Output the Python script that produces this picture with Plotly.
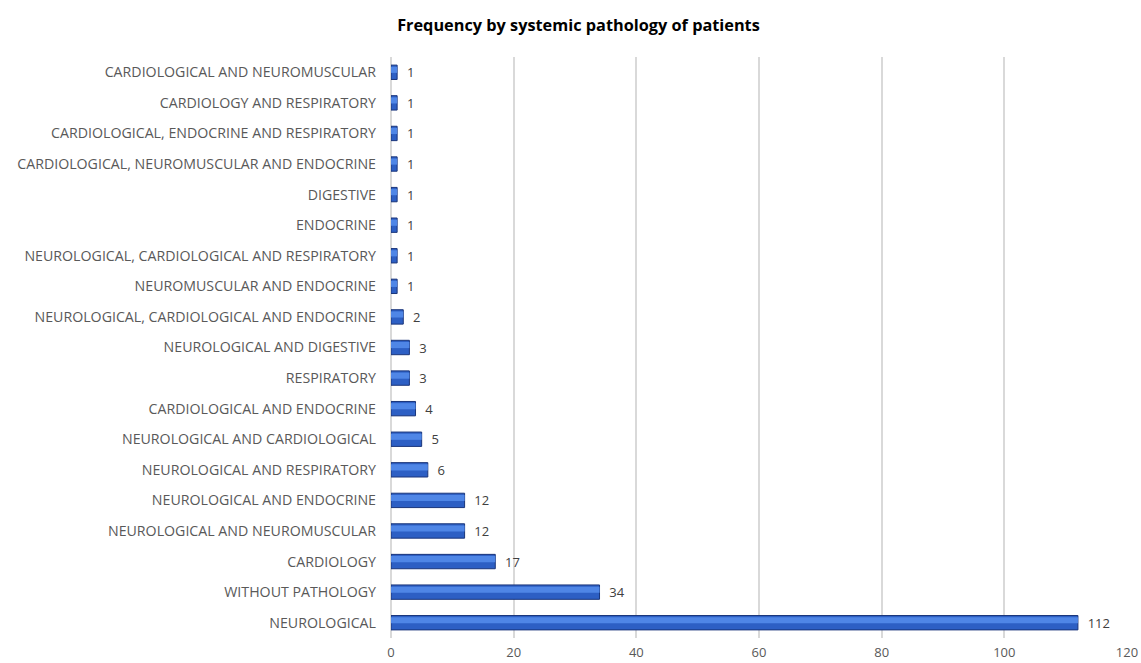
import plotly.graph_objects as go

categories = [
    "NEUROLOGICAL",
    "WITHOUT PATHOLOGY",
    "CARDIOLOGY",
    "NEUROLOGICAL AND NEUROMUSCULAR",
    "NEUROLOGICAL AND ENDOCRINE",
    "NEUROLOGICAL AND RESPIRATORY",
    "NEUROLOGICAL AND CARDIOLOGICAL",
    "CARDIOLOGICAL AND ENDOCRINE",
    "RESPIRATORY",
    "NEUROLOGICAL AND DIGESTIVE",
    "NEUROLOGICAL, CARDIOLOGICAL AND ENDOCRINE",
    "NEUROMUSCULAR AND ENDOCRINE",
    "NEUROLOGICAL, CARDIOLOGICAL AND RESPIRATORY",
    "ENDOCRINE",
    "DIGESTIVE",
    "CARDIOLOGICAL, NEUROMUSCULAR AND ENDOCRINE",
    "CARDIOLOGICAL, ENDOCRINE AND RESPIRATORY",
    "CARDIOLOGY AND RESPIRATORY",
    "CARDIOLOGICAL AND NEUROMUSCULAR",
]
values = [112, 34, 17, 12, 12, 6, 5, 4, 3, 3, 2, 1, 1, 1, 1, 1, 1, 1, 1]
x_ticks = [0, 20, 40, 60, 80, 100, 120]

fig = go.Figure()
# main bar (darker base)
fig.add_trace(go.Bar(
    x=values,
    y=categories,
    orientation="h",
    width=0.47,
    offset=-0.235,
    marker=dict(color="#2d5fc4", line=dict(color="#1a357a", width=1)),
    text=["  " + str(v) for v in values],
    textposition="outside",
    constraintext="none",
    textfont=dict(family="Open Sans", size=13, color="#404040"),
    cliponaxis=False,
    hoverinfo="x+y",
))
# lighter highlight band on the upper part of each bar
fig.add_trace(go.Bar(
    x=values,
    y=categories,
    orientation="h",
    width=0.2,
    offset=-0.02,
    marker=dict(color="#4f86e6", line=dict(width=0)),
    hoverinfo="skip",
))

fig.update_layout(
    width=1141,
    height=663,
    paper_bgcolor="white",
    plot_bgcolor="white",
    margin=dict(l=391, r=14, t=57, b=25),
    barmode="overlay",
    showlegend=False,
    title=dict(
        text="<b>Frequency by systemic pathology of patients</b>",
        x=0.507,
        xanchor="center",
        xref="container",
        y=0.962,
        yanchor="middle",
        font=dict(family="Open Sans", size=16.3, color="#000000"),
    ),
    xaxis=dict(
        range=[0, 120],
        tickvals=x_ticks,
        showgrid=True,
        gridcolor="#d9d9d9",
        gridwidth=2,
        zeroline=True,
        zerolinecolor="#d9d9d9",
        zerolinewidth=2,
        showline=False,
        tickfont=dict(family="Open Sans", size=13, color="#595959"),
        ticks="",
        ticklabelstandoff=5,
        automargin=False,
    ),
    yaxis=dict(
        showgrid=False,
        showline=False,
        ticks="",
        ticklabelstandoff=14,
        tickfont=dict(family="Open Sans", size=14.2, color="#595959"),
        automargin=False,
    ),
)

fig.write_html("out.html")
